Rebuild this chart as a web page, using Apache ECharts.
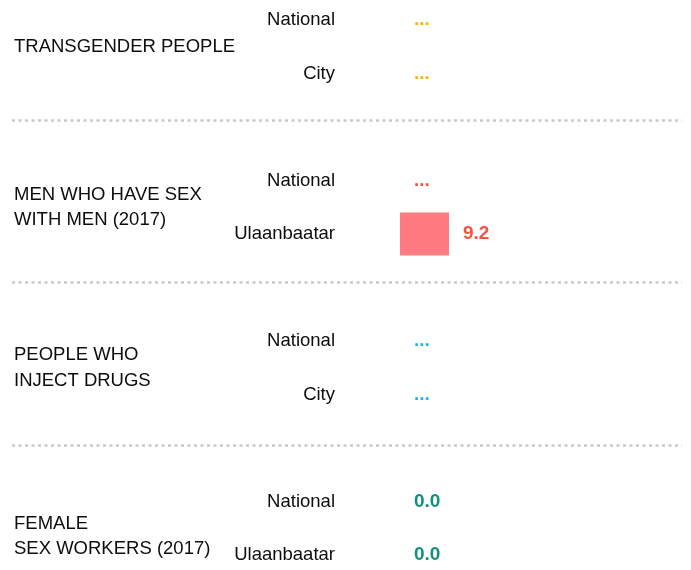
<!DOCTYPE html>
<html>
<head>
<meta charset="utf-8">
<script src="https://cdn.jsdelivr.net/npm/echarts@6/dist/echarts.min.js"></script>
<style>
html,body{margin:0;padding:0;background:#fff;}
#chart{width:691px;height:570px;}
</style>
</head>
<body>
<div id="chart"></div>
<script>
// ---- data ----
const groupNames = ['TRANSGENDER PEOPLE', 'MEN WHO HAVE SEX\nWITH MEN (2017)', 'PEOPLE WHO\nINJECT DRUGS', 'FEMALE\nSEX WORKERS (2017)'];
const rowLabels = [['National', 'City'], ['National', 'Ulaanbaatar'], ['National', 'City'], ['National', 'Ulaanbaatar']];
const rowValues = [[null, null], [null, 9.2], [null, null], [0.0, 0.0]];
const groupTextColors = ['#F9B200', '#F0553F', '#19B6EC', '#14907E'];
const groupBarColors = ['#F9B200', '#FF7B7F', '#19B6EC', '#14907E'];
// positions (in row units) of group labels and separators
const groupLabelPos = [0.5, 3.5, 6.5, 9.65];
const dividerPos = [1.87, 4.91, 7.94];

// ---- build categories (with blank spacer rows) ----
const categories = [];
const barData = [];
rowLabels.forEach((rows, g) => {
  if (g > 0) { categories.push(''); barData.push('-'); }
  rows.forEach((name, r) => {
    categories.push(name);
    const v = rowValues[g][r];
    barData.push({
      value: v == null ? 0 : v,
      itemStyle: { color: groupBarColors[g] },
      label: { color: groupTextColors[g], formatter: v == null ? '...' : v.toFixed(1) }
    });
  });
});
const groupLabelMap = {};
groupLabelPos.forEach((p, i) => { groupLabelMap[p.toFixed(2)] = groupNames[i]; });

const FONT = '"Liberation Sans", Arial, sans-serif';
const chart = echarts.init(document.getElementById('chart'), null, { renderer: 'canvas' });
chart.setOption({
  animation: false,
  backgroundColor: '#ffffff',
  grid: { left: 12, right: 9, top: 20, bottom: 15, containLabel: false },
  xAxis: [{
    type: 'value', min: -72.85, max: 52.95, show: false, splitLine: { show: false }
  }],
  yAxis: [{
    type: 'category', data: categories, inverse: true, boundaryGap: false,
    position: 'left', offset: -323,
    axisLine: { show: false, onZero: false }, axisTick: { show: false }, splitLine: { show: false },
    axisLabel: { interval: 0, margin: 0, color: '#0d0d0d', fontSize: 18.5, fontFamily: FONT, align: 'right' }
  }, {
    type: 'value', min: 0, max: 10, interval: 0.05, inverse: true, position: 'left', offset: 0,
    axisLine: { show: false, onZero: false }, axisTick: { show: false }, splitLine: { show: false },
    axisLabel: {
      inside: true, margin: 2, color: '#0d0d0d', fontSize: 18.5, lineHeight: 25.5, fontFamily: FONT, align: 'left',
      showMinLabel: true, showMaxLabel: true,
      formatter: v => groupLabelMap[Number(v).toFixed(2)] || ''
    }
  }],
  series: [{
    type: 'bar', xAxisIndex: 0, yAxisIndex: 0, barWidth: 43, data: barData,
    label: { show: true, position: 'right', distance: 14, fontSize: 19, fontWeight: 'bold', fontFamily: FONT }
  }, {
    type: 'line', xAxisIndex: 0, yAxisIndex: 1, data: [[0, 0]], showSymbol: false, symbolSize: 0,
    lineStyle: { opacity: 0 }, silent: true,
    markLine: {
      silent: true, symbol: ['none', 'none'], label: { show: false },
      lineStyle: { color: '#C9C9C9', width: 2.5, type: [3, 3.5], cap: 'butt' },
      data: dividerPos.map(p => ({ yAxis: p }))
    }
  }]
});
</script>
</body>
</html>
